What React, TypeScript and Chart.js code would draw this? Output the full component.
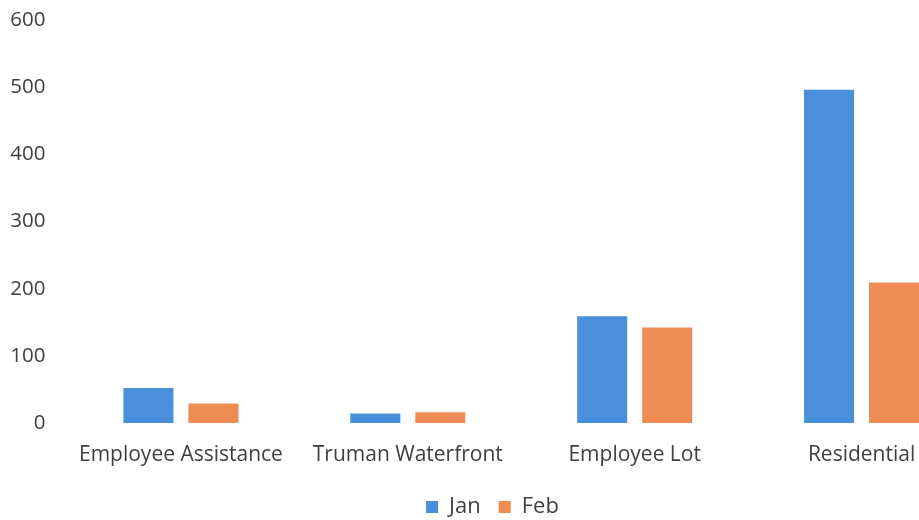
import React, { useEffect, useRef } from "react";
import { Chart, registerables } from "chart.js";

Chart.register(...registerables);

const categories = ["Employee Assistance", "Truman Waterfront", "Employee Lot", "Residential"];
const janValues = [52, 14, 159, 496];
const febValues = [29, 16, 142, 209];
const yTicks = [0, 100, 200, 300, 400, 500, 600];

const FONT = "'Open Sans', sans-serif";

export default function App() {
  const ref = useRef<HTMLCanvasElement | null>(null);
  useEffect(() => {
    if (!ref.current) return;
    const chart = new Chart(ref.current, {
      type: "bar",
      data: {
        labels: categories,
        datasets: [
          { label: "Jan", data: janValues, backgroundColor: "#4A8FDB", barPercentage: 0.77, categoryPercentage: 0.573 },
          { label: "Feb", data: febValues, backgroundColor: "#EF8B55", barPercentage: 0.77, categoryPercentage: 0.573 },
        ],
      },
      options: {
        responsive: false,
        animation: false,
        layout: { padding: { left: 10, right: 29, top: 20, bottom: -8 } },
        plugins: {
          legend: {
            position: "bottom",
            labels: {
              boxWidth: 12,
              boxHeight: 12,
              padding: 18,
              color: "#404040",
              font: { family: FONT, size: 22 },
            },
          },
          tooltip: { enabled: false },
        },
        scales: {
          x: {
            grid: { display: false, drawTicks: false },
            border: { display: false },
            ticks: { color: "#404040", font: { family: FONT, size: 21 }, padding: 19, maxRotation: 0, autoSkip: false },
            afterFit: (axis: any) => {
              axis.height = 55;
            },
          },
          y: {
            min: 0,
            max: 600,
            afterBuildTicks: (axis: any) => {
              axis.ticks = yTicks.map((v) => ({ value: v }));
            },
            afterFit: (axis: any) => {
              axis.width = 57.5;
            },
            grid: { display: false, drawTicks: true, tickLength: 22 },
            border: { display: false },
            ticks: { color: "#404040", font: { family: FONT, size: 20.5 }, padding: 0 },
          },
        },
      },
    });
    return () => chart.destroy();
  }, []);
  return (
    <div style={{ position: "fixed", left: 0, top: 0, width: 919, height: 520, overflow: "hidden", background: "#fff" }}>
      <canvas ref={ref} width={1004} height={520} style={{ width: 1004, height: 520, display: "block" }} />
    </div>
  );
}
